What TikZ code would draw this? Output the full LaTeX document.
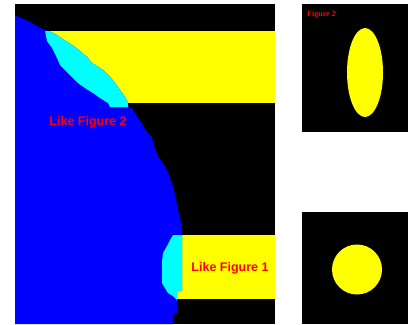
\documentclass[tikz,border=0pt]{standalone}
\usepackage{fontspec}
\setmainfont{Liberation Sans}
\newfontfamily\serifbold{Liberation Serif}
\definecolor{pblue}{RGB}{0,0,255}
\definecolor{pcyan}{RGB}{0,255,255}
\definecolor{pyellow}{RGB}{255,255,0}
\definecolor{pred}{RGB}{255,0,0}
\begin{document}
\begin{tikzpicture}[x=1pt,y=-1pt,
  lbl/.style={text=pred,font=\fontsize{12.5}{13}\selectfont\bfseries,inner sep=0pt}]
\useasboundingbox (0,0) rectangle (411,324);
% main panel
\fill[black] (15,4) rectangle (275,324);
\fill[pyellow] (45,31) rectangle (275,103);
\fill[pyellow] (177,235) rectangle (275,299);
\fill[pblue] (15,15) -- (19,17) -- (30,22) -- (37,26) -- (45,30) -- (49,31) -- (57,35)
  -- (64,40) -- (72,45) -- (80,51) -- (87,57) -- (92,63) -- (103,70) -- (110,77)
  -- (115,83) -- (120,90) -- (125,97) -- (128,103) -- (128,107) -- (132,108)
  -- (135,113) -- (138,118) -- (142,123) -- (144,128) -- (148,133) -- (152,138)
  -- (155,148) -- (158,157) -- (162,162) -- (166,168) -- (170,178) -- (174,190)
  -- (177,205) -- (180,218) -- (182,227) -- (182,291) -- (177,291) -- (177,313)
  -- (173,315) -- (173,324) -- (15,324) -- cycle;
\fill[pcyan] (45,31) -- (49,31) -- (57,35) -- (64,40) -- (72,45) -- (80,51) -- (87,57)
  -- (92,63) -- (103,70) -- (110,77) -- (115,83) -- (120,90) -- (125,97) -- (128,103)
  -- (128,107) -- (110,107) -- (108,103) -- (100,98) -- (93,93) -- (85,88) -- (78,83)
  -- (72,77) -- (67,72) -- (60,65) -- (57,58) -- (52,48) -- (47,41) -- cycle;
\fill[pcyan] (173,235) -- (182,235) -- (182,291) -- (177,291) -- (177,300) -- (173,296)
  -- (168,293) -- (165,288) -- (162,283) -- (162,261) -- (163,253) -- (167,246)
  -- (170,240) -- cycle;
\node[lbl] (lf2) at (88,122) {Like Figure 2};
\node[lbl] (lf1) at (230,268) {Like Figure 1};
% Figure 2 panel
\fill[black] (302,4) rectangle (408,132);
\fill[pyellow] (365,72.5) ellipse [x radius=18, y radius=44.5];
\node[text=pred,font=\serifbold\fontsize{8}{9}\selectfont\bfseries,anchor=west,inner sep=0pt] (f2) at (307,14.5) {Figure 2};
% Figure 1 panel
\fill[black] (302,212) rectangle (408,324);
\fill[pyellow] (357,269.5) circle [radius=25];
\end{tikzpicture}
\end{document}
